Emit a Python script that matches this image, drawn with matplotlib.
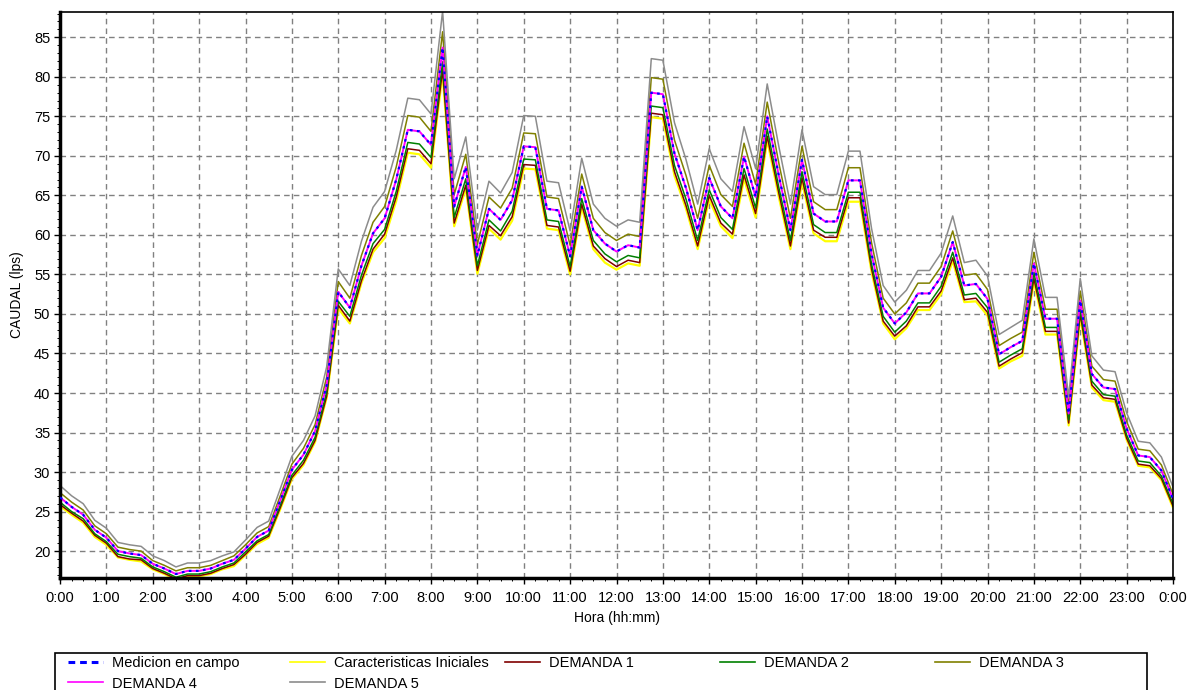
import numpy as np
import matplotlib
matplotlib.use("Agg")
import matplotlib.pyplot as plt
from matplotlib.lines import Line2D
from matplotlib.patches import Rectangle
from matplotlib.ticker import MultipleLocator

plt.rcParams['font.family'] = ['Liberation Sans', 'DejaVu Sans']

# time axis: minutes from 0:00, every 15 min
minutes = np.arange(0, 24 * 60 + 1, 15)

medicion = [26.8, 25.6, 24.6, 22.7, 21.7, 20.0, 19.7, 19.5, 18.4, 17.8, 17.1, 17.5, 17.5, 17.8, 18.4, 18.9,
            20.3, 21.8, 22.6, 26.4, 30.3, 32.2, 35.2, 41.0, 52.8, 50.8, 56.1, 60.2, 62.1, 67.0, 73.3, 73.1,
            71.4, 83.7, 63.6, 68.6, 57.4, 63.3, 61.9, 64.4, 71.2, 71.1, 63.3, 63.1, 57.3, 66.1, 60.6, 58.9,
            57.9, 58.7, 58.4, 78.0, 77.8, 70.3, 65.9, 60.6, 67.2, 63.6, 62.1, 69.9, 64.8, 75.0, 67.5, 60.6,
            69.5, 62.7, 61.7, 61.7, 66.9, 66.9, 57.6, 50.8, 48.8, 50.2, 52.6, 52.6, 54.7, 59.1, 53.6, 53.8,
            51.9, 44.9, 45.8, 46.6, 56.4, 49.4, 49.4, 37.4, 51.7, 42.4, 40.7, 40.5, 35.5, 32.1, 31.9, 30.2, 26.6]

demanda4 = [26.8, 25.6, 24.6, 22.7, 21.7, 20.0, 19.7, 19.5, 18.4, 17.8, 17.1, 17.5, 17.5, 17.8, 18.4, 18.9,
            20.3, 21.8, 22.6, 26.4, 30.3, 32.2, 35.2, 41.0, 52.8, 50.8, 56.1, 60.2, 62.1, 67.0, 73.3, 73.1,
            71.4, 83.7, 63.6, 68.6, 57.4, 63.3, 61.9, 64.4, 71.2, 71.1, 63.3, 63.1, 57.3, 66.1, 60.6, 58.9,
            57.9, 58.7, 58.4, 78.0, 77.8, 70.3, 65.9, 60.6, 67.2, 63.6, 62.1, 69.9, 64.8, 75.0, 67.5, 60.6,
            69.5, 62.7, 61.7, 61.7, 66.9, 66.9, 57.6, 50.8, 48.8, 50.2, 52.6, 52.6, 54.7, 59.1, 53.6, 53.8,
            51.9, 44.9, 45.8, 46.6, 56.4, 49.4, 49.4, 37.4, 51.7, 42.4, 40.7, 40.5, 35.5, 32.1, 31.9, 30.2, 26.6]

demanda5 = [28.3, 27.0, 26.0, 23.9, 22.9, 21.1, 20.8, 20.6, 19.4, 18.8, 18.0, 18.5, 18.5, 18.8, 19.4, 19.9,
            21.4, 23.0, 23.8, 27.9, 32.0, 34.0, 37.1, 43.3, 55.7, 53.6, 59.2, 63.5, 65.5, 70.7, 77.3, 77.1,
            75.3, 88.3, 67.1, 72.4, 60.6, 66.8, 65.3, 67.9, 75.1, 75.0, 66.8, 66.6, 60.5, 69.7, 63.9, 62.1,
            61.1, 61.9, 61.6, 82.3, 82.1, 74.2, 69.5, 63.9, 70.9, 67.1, 65.5, 73.7, 68.4, 79.1, 71.2, 63.9,
            73.3, 66.1, 65.1, 65.1, 70.6, 70.6, 60.8, 53.6, 51.5, 53.0, 55.5, 55.5, 57.7, 62.4, 56.5, 56.8,
            54.8, 47.4, 48.3, 49.2, 59.5, 52.1, 52.1, 39.5, 54.5, 44.7, 42.9, 42.7, 37.5, 33.9, 33.7, 31.9, 28.1]

demanda3 = [27.4, 26.2, 25.2, 23.2, 22.2, 20.5, 20.2, 20.0, 18.8, 18.2, 17.5, 17.9, 17.9, 18.2, 18.8, 19.4,
            20.8, 22.3, 23.1, 27.0, 31.0, 33.0, 36.0, 42.0, 54.1, 52.0, 57.4, 61.6, 63.6, 68.6, 75.1, 74.9,
            73.1, 85.7, 65.1, 70.2, 58.8, 64.8, 63.4, 65.9, 72.9, 72.8, 64.8, 64.6, 58.7, 67.7, 62.1, 60.3,
            59.3, 60.1, 59.8, 79.9, 79.7, 72.0, 67.5, 62.1, 68.8, 65.1, 63.6, 71.6, 66.4, 76.8, 69.1, 62.1,
            71.2, 64.2, 63.2, 63.2, 68.5, 68.5, 59.0, 52.0, 50.0, 51.4, 53.9, 53.9, 56.0, 60.5, 54.9, 55.1,
            53.1, 46.0, 46.9, 47.7, 57.8, 50.6, 50.6, 38.3, 52.9, 43.4, 41.7, 41.5, 36.4, 32.9, 32.7, 30.9, 27.2]

demanda2 = [26.2, 25.0, 24.1, 22.2, 21.2, 19.6, 19.3, 19.1, 18.0, 17.4, 16.7, 17.1, 17.1, 17.4, 18.0, 18.5,
            19.9, 21.3, 22.1, 25.8, 29.6, 31.5, 34.4, 40.1, 51.6, 49.7, 54.9, 58.9, 60.7, 65.5, 71.7, 71.5,
            69.8, 81.9, 62.2, 67.1, 56.1, 61.9, 60.5, 63.0, 69.6, 69.5, 61.9, 61.7, 56.0, 64.6, 59.3, 57.6,
            56.6, 57.4, 57.1, 76.3, 76.1, 68.8, 64.5, 59.3, 65.7, 62.2, 60.7, 68.4, 63.4, 73.4, 66.0, 59.3,
            68.0, 61.3, 60.3, 60.3, 65.4, 65.4, 56.3, 49.7, 47.7, 49.1, 51.4, 51.4, 53.5, 57.8, 52.4, 52.6,
            50.8, 43.9, 44.8, 45.6, 55.2, 48.3, 48.3, 36.6, 50.6, 41.5, 39.8, 39.6, 34.7, 31.4, 31.2, 29.5, 26.0]

demanda1 = [25.9, 24.8, 23.8, 22.0, 21.0, 19.3, 19.0, 18.9, 17.8, 17.2, 16.5, 16.9, 16.9, 17.2, 17.8, 18.3,
            19.6, 21.1, 21.9, 25.5, 29.3, 31.1, 34.0, 39.6, 51.1, 49.1, 54.2, 58.2, 60.1, 64.8, 70.9, 70.7,
            69.0, 80.9, 61.5, 66.3, 55.5, 61.2, 59.9, 62.3, 68.9, 68.8, 61.2, 61.0, 55.4, 63.9, 58.6, 57.0,
            56.0, 56.8, 56.5, 75.4, 75.2, 68.0, 63.7, 58.6, 65.0, 61.5, 60.1, 67.6, 62.7, 72.5, 65.3, 58.6,
            67.2, 60.6, 59.7, 59.7, 64.7, 64.7, 55.7, 49.1, 47.2, 48.5, 50.9, 50.9, 52.9, 57.1, 51.8, 52.0,
            50.2, 43.4, 44.3, 45.1, 54.5, 47.8, 47.8, 36.2, 50.0, 41.0, 39.4, 39.2, 34.3, 31.0, 30.8, 29.2, 25.7]

iniciales = [25.7, 24.6, 23.6, 21.8, 20.8, 19.2, 18.9, 18.7, 17.7, 17.1, 16.4, 16.8, 16.8, 17.1, 17.7, 18.1,
             19.5, 20.9, 21.7, 25.3, 29.1, 30.9, 33.8, 39.4, 50.7, 48.8, 53.9, 57.8, 59.6, 64.3, 70.4, 70.2,
             68.5, 80.4, 61.1, 65.9, 55.1, 60.8, 59.4, 61.8, 68.4, 68.3, 60.8, 60.6, 55.0, 63.5, 58.2, 56.5,
             55.6, 56.4, 56.1, 74.9, 74.7, 67.5, 63.3, 58.2, 64.5, 61.1, 59.6, 67.1, 62.2, 72.0, 64.8, 58.2,
             66.7, 60.2, 59.2, 59.2, 64.2, 64.2, 55.3, 48.8, 46.8, 48.2, 50.5, 50.5, 52.5, 56.7, 51.5, 51.6,
             49.8, 43.1, 44.0, 44.7, 54.1, 47.4, 47.4, 35.9, 49.6, 40.7, 39.1, 38.9, 34.1, 30.8, 30.6, 29.0, 25.5]

hour_labels = ["0:00", "1:00", "2:00", "3:00", "4:00", "5:00", "6:00", "7:00", "8:00", "9:00", "10:00",
               "11:00", "12:00", "13:00", "14:00", "15:00", "16:00", "17:00", "18:00", "19:00", "20:00",
               "21:00", "22:00", "23:00", "0:00"]

W, H = 1202, 690
fig = plt.figure(figsize=(W / 100, H / 100), dpi=100)
ax = fig.add_axes([60 / W, 1 - 578 / H, (1173 - 60) / W, (578 - 12) / H])

series = [
    ("Caracteristicas Iniciales", iniciales, dict(color="#ffff00", lw=1.6, ls="-")),
    ("DEMANDA 1", demanda1, dict(color="#800000", lw=1.1, ls="-")),
    ("DEMANDA 2", demanda2, dict(color="#008000", lw=1.1, ls="-")),
    ("DEMANDA 3", demanda3, dict(color="#808000", lw=1.1, ls="-")),
    ("DEMANDA 5", demanda5, dict(color="#8c8c8c", lw=1.1, ls="-")),
    ("DEMANDA 4", demanda4, dict(color="#ff00ff", lw=1.4, ls="-")),
]
handles = {}
for name, vals, st in series:
    (ln,) = ax.plot(minutes, vals, **st)
    handles[name] = ln
(lm,) = ax.plot(minutes, medicion, color="#0000ff", lw=1.6, ls=(0, (1.2, 2.0)), zorder=5)
handles["Medicion en campo"] = lm

ax.set_xlim(0, 1440)
ax.set_ylim(16.6, 88.2)
ax.set_xticks(np.arange(0, 1441, 60))
ax.set_xticklabels(hour_labels)
ax.xaxis.set_minor_locator(MultipleLocator(15))
ax.set_yticks(np.arange(20, 86, 5))
ax.yaxis.set_minor_locator(MultipleLocator(1))

ax.tick_params(axis="both", which="major", direction="out", length=4, width=1, labelsize=10.5,
               colors="black", pad=3)
ax.tick_params(axis="both", which="minor", direction="out", length=2, width=0.7)
ax.tick_params(axis="x", which="major", pad=5)

ax.grid(True, which="major", color="#808080", ls=(0, (4, 3)), lw=1.0)
ax.set_axisbelow(True)

for side in ["left", "bottom"]:
    ax.spines[side].set_linewidth(2.5)
for side in ["top", "right"]:
    ax.spines[side].set_linewidth(1.2)

ax.set_xlabel("Hora (hh:mm)", fontsize=10, labelpad=5)
ax.set_ylabel("CAUDAL (lps)", fontsize=10, labelpad=7)

# legend frame
fig.patches.append(Rectangle((55 / W, -0.05), (1147 - 55) / W, 0.05 + 1 - 653 / H,
                             transform=fig.transFigure, fill=False, edgecolor="black", lw=1.2))

columns = [
    (68, ["Medicion en campo", "DEMANDA 4"]),
    (290, ["Caracteristicas Iniciales", "DEMANDA 5"]),
    (505, ["DEMANDA 1"]),
    (720, ["DEMANDA 2"]),
    (935, ["DEMANDA 3"]),
]
for xpx, names in columns:
    hs = []
    for n in names:
        h = handles[n]
        if n == "Medicion en campo":
            hs.append(Line2D([], [], color="#0000ff", lw=2.2, ls=(0, (2.2, 1.6))))
        else:
            hs.append(Line2D([], [], color=h.get_color(), lw=1.2))
    fig.legend(hs, names, loc="upper left", bbox_to_anchor=(xpx / W, 1 - 656 / H),
               frameon=False, fontsize=10.5, handlelength=2.4, handletextpad=0.6,
               labelspacing=0.45, borderpad=0, borderaxespad=0)

fig.savefig("out.png", dpi=100)
